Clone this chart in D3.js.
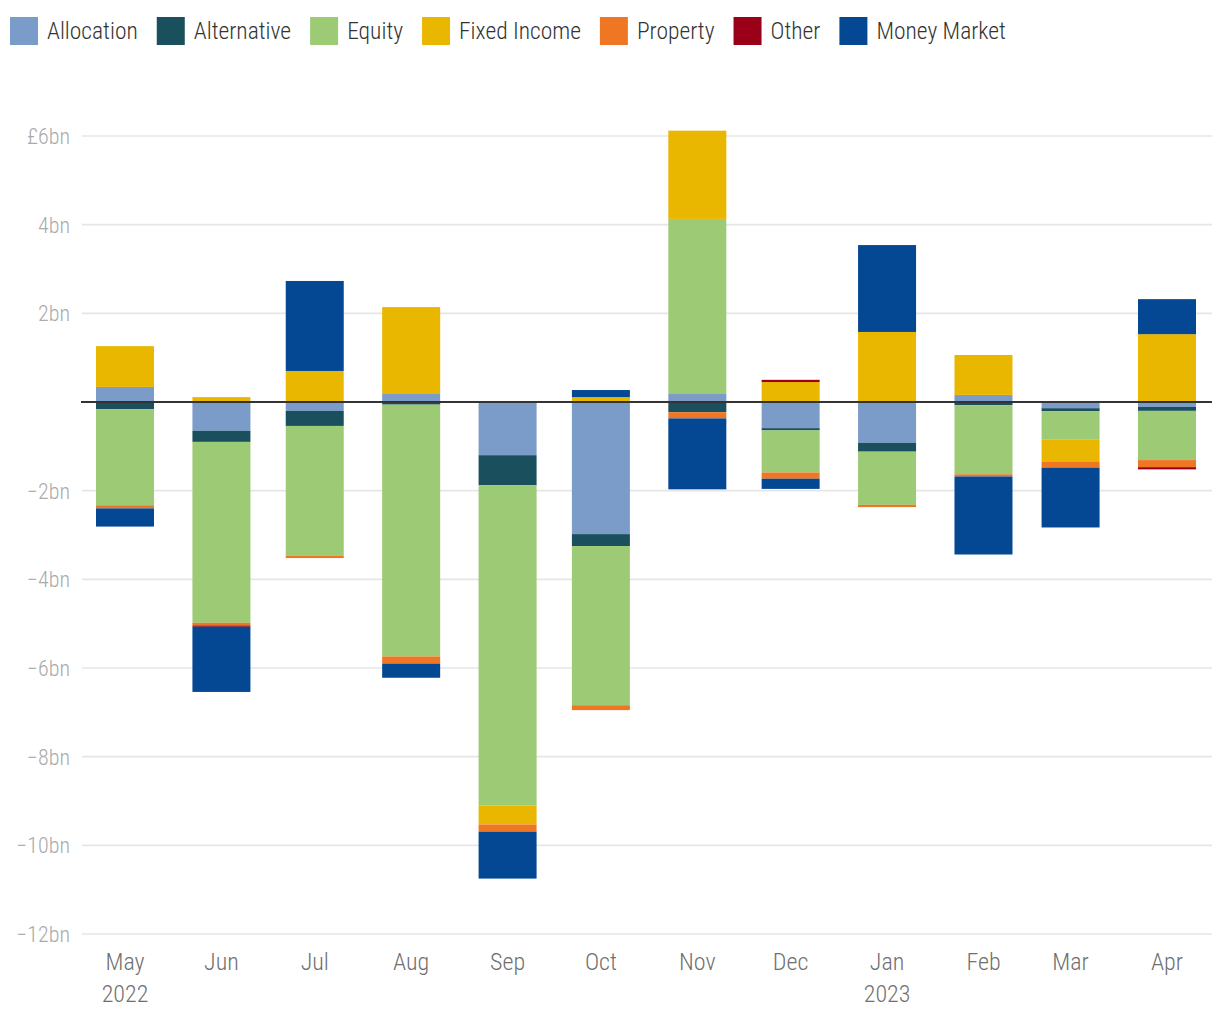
<!DOCTYPE html>
<html><head><meta charset="utf-8">
<script src="https://cdn.jsdelivr.net/npm/d3@7"></script>
<style>
body{margin:0;background:#fff;}
svg{display:block;font-family:"Roboto Condensed","Liberation Sans Narrow","Liberation Sans",sans-serif;font-weight:300;}
</style></head><body>
<svg id="c" width="1220" height="1020"></svg>
<script>
const months = ["May","Jun","Jul","Aug","Sep","Oct","Nov","Dec","Jan","Feb","Mar","Apr"];
const monthDates = ["2022-05-01","2022-06-01","2022-07-01","2022-08-01","2022-09-01","2022-10-01","2022-11-01","2022-12-01","2023-01-01","2023-02-01","2023-03-01","2023-04-01"];
const yearLabels = ["2022","","","","","","","","2023","","",""];
const categories = ["Allocation","Alternative","Equity","Fixed Income","Property","Other","Money Market"];
const colors = ["#7b9bc9","#1a4f5e","#9dca74","#e9b600","#ef7622","#9b0019","#044894"];
// £bn net flows per month
const allocation  = [0.34,-0.65,-0.20,0.18,-1.20,-2.98,0.18,-0.59,-0.92,0.16,-0.14,-0.11];
const alternative = [-0.16,-0.25,-0.34,-0.06,-0.68,-0.27,-0.23,-0.05,-0.20,-0.07,-0.07,-0.09];
const equity      = [-2.17,-4.08,-2.93,-5.68,-7.22,-3.59,3.95,-0.95,-1.20,-1.56,-0.63,-1.11];
const fixedIncome = [0.92,0.11,0.70,1.96,-0.43,0.11,1.99,0.45,1.58,0.90,-0.50,1.53];
const property    = [-0.07,-0.06,-0.05,-0.16,-0.16,-0.11,-0.14,-0.14,-0.05,-0.05,-0.14,-0.16];
const other       = [0,-0.03,0,0,0,0,0,0.05,0,0,0,-0.05];
const moneyMarket = [-0.41,-1.47,2.03,-0.32,-1.06,0.16,-1.60,-0.23,1.96,-1.76,-1.35,0.79];
const yTicks = [6,4,2,0,-2,-4,-6,-8,-10,-12];

const parse = d3.utcParse("%Y-%m-%d");
const seriesVals = [allocation,alternative,equity,fixedIncome,property,other,moneyMarket];
const table = months.map((m,i)=>{
  const o={month:m,date:parse(monthDates[i]),year:yearLabels[i]};
  categories.forEach((c,k)=>o[c]=seriesVals[k][i]);
  return o;
});

const svg = d3.select("#c");
const barW = 58;
const x = d3.scaleUtc().domain([table[0].date, table[table.length-1].date]).range([125,1167]);
const y = d3.scaleLinear().domain([-12,6]).range([934,136]);
const color = d3.scaleOrdinal().domain(categories).range(colors);

// gridlines
svg.append("g").selectAll("line").data(yTicks.filter(t=>t!==0)).join("line")
  .attr("x1",82).attr("x2",1212).attr("y1",d=>y(d)).attr("y2",d=>y(d))
  .attr("stroke","#e6e6e6").attr("stroke-width",1.6);

// y labels
const fmt = d => d===0 ? "" : (d===6 ? "£6bn" : (d<0 ? "\u2212"+Math.abs(d)+"bn" : d+"bn"));
svg.append("g").selectAll("text").data(yTicks).join("text")
  .attr("x",70).attr("y",d=>y(d)).attr("dy","0.36em").attr("text-anchor","end")
  .attr("font-size",22).attr("fill","#aaaaaa").text(fmt);

// stacks
const stack = d3.stack().keys(categories).offset(d3.stackOffsetDiverging).order(d3.stackOrderNone);
const layers = stack(table);
svg.append("g").selectAll("g").data(layers).join("g")
  .attr("fill",d=>color(d.key))
  .selectAll("rect").data(d=>d).join("rect")
  .attr("x",d=>x(d.data.date)-barW/2).attr("width",barW)
  .attr("y",d=>y(Math.max(d[0],d[1])))
  .attr("height",d=>Math.abs(y(d[0])-y(d[1])));

// zero line
svg.append("line").attr("x1",81).attr("x2",1212).attr("y1",y(0)).attr("y2",y(0))
  .attr("stroke","#333").attr("stroke-width",2.2);

// x labels
const xl = svg.append("g");
xl.selectAll("text.m").data(table).join("text").attr("class","m")
  .attr("x",d=>x(d.date)).attr("y",970).attr("text-anchor","middle")
  .attr("font-size",24).attr("fill","#707070").text(d=>d.month);
xl.selectAll("text.yr").data(table.filter(d=>d.year)).join("text").attr("class","yr")
  .attr("x",d=>x(d.date)).attr("y",1002).attr("text-anchor","middle")
  .attr("font-size",24).attr("fill","#707070").text(d=>d.year);

// legend
const lg = svg.append("g");
let lx = 10;
categories.forEach((c,i)=>{
  lg.append("rect").attr("x",lx).attr("y",17).attr("width",28).attr("height",28).attr("fill",colors[i]);
  const t = lg.append("text").attr("x",lx+37).attr("y",39).attr("font-size",23.5).attr("fill","#333").text(c);
  lx += 37 + t.node().getComputedTextLength() + 19;
});
</script></body></html>
